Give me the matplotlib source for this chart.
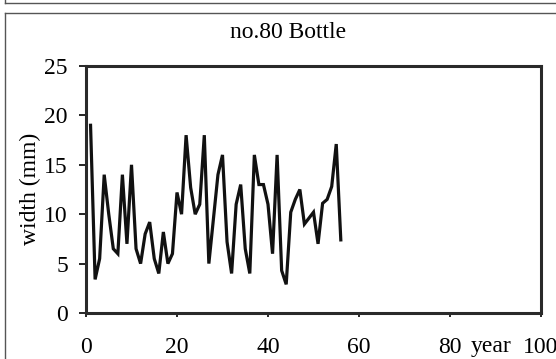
import matplotlib
matplotlib.use("Agg")
import matplotlib.pyplot as plt
from matplotlib.lines import Line2D

years = list(range(1, 57))
width_mm = [19, 3.4, 5.5, 14, 10, 6.5, 6, 14, 7, 15,
            6.5, 5, 8, 9.2, 5.5, 4, 8.2, 5, 6, 12.2,
            10, 18, 12.7, 10, 11, 18, 5, 9.5, 14, 16,
            7.2, 4, 11, 13, 6.5, 4, 16, 13, 13, 11,
            6, 16, 4.3, 2.9, 10.2, 11.5, 12.5, 9, 9.6, 10.2,
            7, 11.1, 11.5, 12.8, 17.1, 7.4]
x_ticks = [0, 20, 40, 60, 80, 100]
y_ticks = [0, 5, 10, 15, 20, 25]
title = "no.80 Bottle"
ylabel = "width (mm)"
xlabel = "year"

W, H = 556, 359
FS = 17
plt.rcParams['font.family'] = ['Liberation Serif', 'DejaVu Serif']
fig = plt.figure(figsize=(W / 100, H / 100), dpi=100)
ax = fig.add_axes([86 / W, 1 - 313 / H, (541 - 86) / W, (313 - 66) / H])

ax.plot(years, width_mm, color='#111111', lw=2.3, solid_joinstyle='miter')
ax.set_xlim(0, 100)
ax.set_ylim(0, 25)
ax.set_xticks(x_ticks)
ax.set_yticks(y_ticks)
ax.tick_params(axis='y', direction='out', length=5, width=1.2, pad=8, labelsize=FS)
ax.tick_params(axis='x', direction='out', length=3, width=1.2, pad=14, labelsize=FS)
for s in ax.spines.values():
    s.set_linewidth(2.2)
    s.set_color('#2a2a2a')

fig.text(288 / W, 1 - 38 / H, title, ha='center', va='baseline', fontsize=FS)
fig.text(30 / W, 1 - 189 / H, ylabel, ha='center', va='center', rotation=90, fontsize=FS)
fig.text(491.5 / W, 1 - 352 / H, xlabel, ha='center', va='baseline', fontsize=FS)

def px_line(xs, ys):
    fig.add_artist(Line2D([x / W for x in xs], [1 - y / H for y in ys],
                          transform=fig.transFigure, color='#555555', lw=1))

px_line([5, W], [3, 3])
px_line([5, 5], [0, 3])
px_line([5, W], [12.5, 12.5])
px_line([5, 5], [12.5, H])

fig.savefig("out.png", dpi=100)
